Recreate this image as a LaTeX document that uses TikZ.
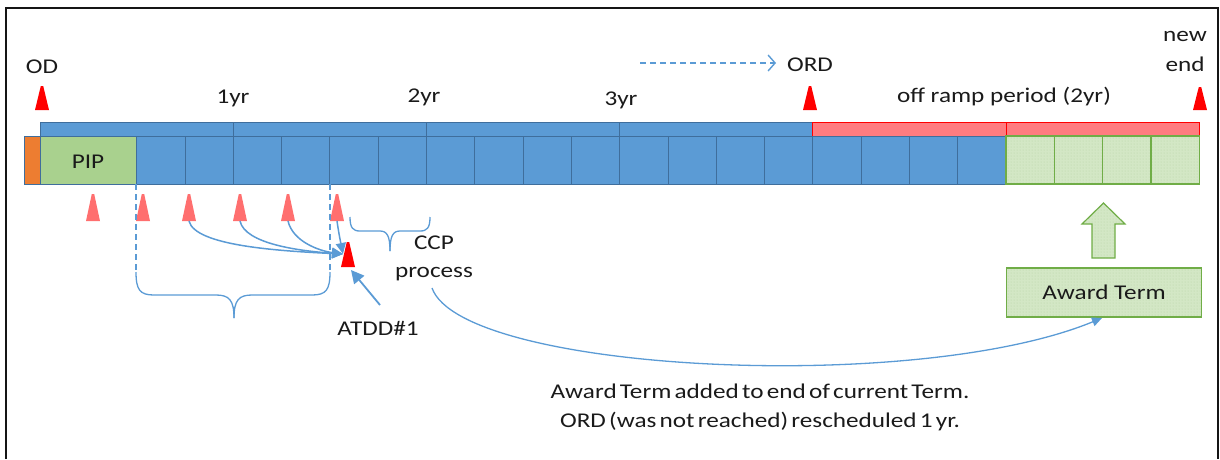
\documentclass[tikz,border=0pt]{standalone}
\usepackage{fontspec}
\setmainfont{Carlito}[FakeStretch=1.2]
\usetikzlibrary{arrows.meta,patterns}

\definecolor{cellblue}{HTML}{5B9BD5}
\definecolor{edgeblue}{HTML}{3F6E9C}
\definecolor{rampred}{HTML}{FF7C80}
\definecolor{pipgreen}{HTML}{A9D18E}
\definecolor{awardgreen}{HTML}{D3E7C5}
\definecolor{dotgreen}{HTML}{B9D4A6}
\definecolor{edgegreen}{HTML}{70AD47}
\definecolor{odorange}{HTML}{ED7D31}
\definecolor{markred}{HTML}{FF0000}
\definecolor{markpink}{HTML}{FF6F6F}
\definecolor{linkblue}{HTML}{5B9BD5}
\definecolor{framegray}{HTML}{151515}
\definecolor{inkgray}{HTML}{1A1A1A}

% triangular date marker: name, x, top y, bottom y, colour
\newcommand\flagtri[5]{%
  \fill[#5] (#2-7,#4) -- (#2-1.2,#3) -- (#2+1.2,#3) -- (#2+7,#4) -- cycle;
  \coordinate (#1) at (#2,#4);}

\begin{document}
\begin{tikzpicture}[x=1pt,y=-1pt,
  lbl/.style={font=\fontsize{21}{25}\selectfont, text=inkgray, inner sep=0pt, anchor=base},
  tightlbl/.style={lbl, execute at begin node={\spaceskip=3.2pt plus 1pt\relax}},
  bluecell/.style={draw=edgeblue, fill=cellblue, line width=0.8pt},
  rampcell/.style={draw=markred, fill=rampred, line width=0.9pt},
  greencell/.style={draw=edgegreen, line width=1.3pt, preaction={fill=awardgreen},
                    pattern=dots, pattern color=dotgreen},
  link/.style={draw=linkblue, line width=1.5pt},
  bracepath/.style={draw=linkblue, line width=1.3pt}]

\useasboundingbox (0,0) rectangle (1220,459);

% outer frame, open at the bottom
\draw[framegray, line width=2.5pt] (6,459) -- (6,8) -- (1218,8) -- (1218,459);

% year bar above the cells
\foreach \k in {0,...,3}
  \draw[bluecell] ({40+193.2*\k},122) rectangle ({40+193.2*(\k+1)},136);
\foreach \k in {4,5}
  \draw[rampcell] ({40+193.2*\k},122) rectangle ({40+193.2*(\k+1)},136);

% row of quarter cells
\draw[draw=edgeblue, fill=odorange, line width=0.8pt] (24,136) rectangle (40,184);
\draw[draw=edgeblue, fill=pipgreen, line width=0.8pt] (40,136) rectangle (136.6,184);
\foreach \k in {2,...,19}
  \draw[bluecell] ({40+48.3*\k},136) rectangle ({40+48.3*(\k+1)},184);
\foreach \k in {20,...,23}
  \draw[greencell] ({40+48.3*\k},136) rectangle ({40+48.3*(\k+1)},184);
\node[lbl] (pip) at (88,168) {PIP};

% top markers and labels
\flagtri{od}{42}{86}{110}{markred}
\flagtri{ord}{810}{86}{110}{markred}
\flagtri{newend}{1200}{87}{110}{markred}
\node[lbl] (odlab) at (42,73) {OD};
\node[lbl] (ordlab) at (810,71) {ORD};
\node[lbl] (newlab) at (1185,41) {new};
\node[lbl] (endlab) at (1185,71) {end};
\node[lbl] (y1) at (233,103) {1yr};
\node[lbl] (y2) at (424,102) {2yr};
\node[lbl] (y3) at (621,105) {3yr};
\node[lbl] (ramp) at (1004,102) {off ramp period (2yr)};

% ORD shift arrow
\coordinate (shiftA) at (640,63);
\coordinate (shiftB) at (776,63);
\draw[linkblue, line width=1.4pt, dash pattern=on 6pt off 4pt,
      -{Straight Barb[length=7pt,width=16pt,line width=1.4pt]}] (shiftA) -- (shiftB);

% quarterly review markers
\flagtri{p1}{93}{194}{221}{markpink}
\flagtri{p2}{143}{194}{221}{markpink}
\flagtri{p3}{189}{194}{221}{markpink}
\flagtri{p4}{240}{194}{221}{markpink}
\flagtri{p5}{288}{194}{221}{markpink}
\flagtri{p6}{337}{194}{221}{markpink}

% ATDD marker and label
\flagtri{atdd}{348}{242}{267}{markred}
\coordinate (atddin) at (343,254);
\coordinate (atddtip) at (351,270);
\node[lbl] (atddlab) at (378,335) {ATDD\#1};

% reviews feeding the ATDD
\draw[link, -{Triangle[length=11pt,width=10pt]}]
  (p3) .. controls (195,246) and (280,251) .. (atddin);
\draw[link, -{Triangle[length=11pt,width=10pt]}]
  (p4) .. controls (245,244) and (300,251) .. (atddin);
\draw[link, -{Triangle[length=11pt,width=10pt]}]
  (p5) .. controls (293,242) and (320,251) .. (atddin);
\draw[link, -{Triangle[length=11pt,width=10pt]}]
  (p6) .. controls (339,235) and (341,244) .. (atddin);
\draw[link, line width=1.8pt, -{Triangle[length=13pt,width=13pt]}]
  (380,305) -- (atddtip);

% evaluation window bracket
\draw[linkblue, line width=1.3pt, dash pattern=on 6pt off 4pt] (136,184) -- (136,272);
\draw[linkblue, line width=1.3pt, dash pattern=on 6pt off 4pt] (330,184) -- (330,272);
\draw[bracepath] (136,272) .. controls (136,290) and (140,295) .. (154,295) -- (216,295)
  .. controls (229,295) and (234,300) .. (234,318);
\draw[bracepath] (234,318) .. controls (234,300) and (239,295) .. (252,295) -- (312,295)
  .. controls (326,295) and (330,290) .. (330,272);

% CCP bracket and label
\draw[bracepath] (350,217) .. controls (350,228) and (353,231) .. (360,231) -- (380,231)
  .. controls (387,231) and (390,236) .. (390,251);
\draw[bracepath] (390,251) .. controls (390,236) and (393,231) .. (400,231) -- (420,231)
  .. controls (427,231) and (430,228) .. (430,217);
\node[lbl] (ccp) at (434,249) {CCP};
\node[lbl] (proc) at (434,277) {process};

% award term box and upward arrow
\node[greencell, minimum width=195pt, minimum height=49pt, inner sep=0pt,
      text=inkgray, font=\fontsize{21}{25}\selectfont] (award) at (1104,292.5) {Award Term};
\draw[greencell, line width=1.2pt] (1092,258) -- (1092,224) -- (1082,224) -- (1103.5,203)
  -- (1125,224) -- (1115,224) -- (1115,258) -- cycle;

% award term carried to the end of the term
\coordinate (cstart) at (432,288);
\coordinate (cend) at (1102,318);
\draw[link, line width=1.3pt, -{Triangle[length=10pt,width=9pt]}]
  (cstart) .. controls (462,372) and (915,395) .. (cend);

\node[tightlbl] (note1) at (760,398) {Award Term added to end of current Term.};
\node[tightlbl] (note2) at (760,427.5) {ORD (was not reached) rescheduled 1 yr.};
\end{tikzpicture}
\end{document}
